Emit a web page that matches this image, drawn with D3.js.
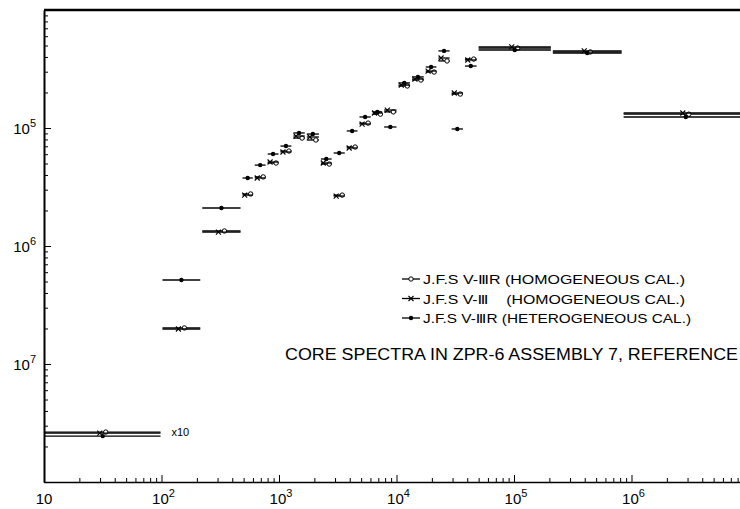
<!DOCTYPE html>
<meta charset="utf-8">
<style>
body { margin: 0; background: #fff; }
svg { display: block; font-family: "Liberation Sans", "DejaVu Sans", sans-serif; }
.bar { fill: none; stroke: #000; stroke-width: 1.3px; }
.axis path, .axis line { stroke: #000; }
</style>
<body>
<script src="https://cdn.jsdelivr.net/npm/d3@7"></script>
<script>

// energy group edges (eV)
var edges = [10, 100, 218, 480, 610, 785, 1010, 1300, 1690, 2230, 2860, 3700, 4750,
             6150, 7700, 10200, 13300, 17400, 22300, 28900, 37500, 49000, 210000, 840000, 1e7];

// flux per group (first group plotted x10)
var homogR = [2.65e-8, 2.02e-7, 1.34e-6, 2.76e-6, 3.85e-6, 5.05e-6, 6.38e-6, 8.22e-6, 7.91e-6,
              4.95e-6, 2.70e-6, 6.90e-6, 1.10e-5, 1.31e-5, 1.37e-5, 2.27e-5, 2.55e-5, 2.98e-5,
              3.70e-5, 1.94e-5, 3.84e-5, 4.76e-5, 4.41e-5, 1.31e-5];
var homog  = [2.60e-8, 1.98e-7, 1.31e-6, 2.70e-6, 3.77e-6, 5.15e-6, 6.26e-6, 8.55e-6, 8.39e-6,
              5.05e-6, 2.65e-6, 6.77e-6, 1.08e-5, 1.34e-5, 1.42e-5, 2.31e-5, 2.60e-5, 3.04e-5,
              3.92e-5, 1.98e-5, 3.77e-5, 4.86e-5, 4.50e-5, 1.34e-5];
var heteroR = [2.45e-8, 5.15e-7, 2.10e-6, 3.77e-6, 4.85e-6, 6.02e-6, 7.03e-6, 9.08e-6, 8.89e-6,
               5.46e-6, 6.14e-6, 9.44e-6, 1.24e-5, 1.37e-5, 1.02e-5, 2.41e-5, 2.71e-5, 3.29e-5,
               4.50e-5, 9.81e-6, 3.35e-5, 4.58e-5, 4.32e-5, 1.24e-5];

var xMajor = [10, 1e2, 1e3, 1e4, 1e5, 1e6];
var yMajor = [1e-7, 1e-6, 1e-5];
var legendLabels = ["J.F.S V-\u2162R (HOMOGENEOUS CAL.)",
                    "J.F.S V-\u2162    (HOMOGENEOUS CAL.)",
                    "J.F.S V-\u2162R (HETEROGENEOUS CAL.)"];
var title = "CORE SPECTRA IN ZPR-6 ASSEMBLY 7, REFERENCE";

var W = 740, H = 509;

var x = d3.scaleLog().domain([10, 1e7]).range([44, 749]);
var y = d3.scaleLog().domain([1e-8, 1e-4]).range([482, 10]);

var svg = d3.select("body").append("svg")
    .attr("width", W)
    .attr("height", H);

// axes with inward ticks
var minorX = x.ticks().filter(function(d) { return xMajor.indexOf(d) < 0 && x(d) < W; });
var minorY = y.ticks().filter(function(d) { return yMajor.indexOf(d) < 0; });

svg.append("g").attr("class", "axis")
    .attr("transform", "translate(0,482)")
    .call(d3.axisBottom(x).tickValues(minorX).tickSizeInner(-4).tickSizeOuter(0).tickFormat(""))
    .select(".domain").attr("stroke-width", 1.6);
svg.append("g").attr("class", "axis")
    .attr("transform", "translate(0,482)")
    .call(d3.axisBottom(x).tickValues(xMajor).tickSizeInner(-7).tickSizeOuter(0).tickFormat(""))
    .select(".domain").remove();

svg.append("g").attr("class", "axis")
    .attr("transform", "translate(44,0)")
    .call(d3.axisLeft(y).tickValues(minorY).tickSizeInner(-4).tickSizeOuter(0).tickFormat(""))
    .select(".domain").attr("stroke-width", 2);
svg.append("g").attr("class", "axis")
    .attr("transform", "translate(44,0)")
    .call(d3.axisLeft(y).tickValues(yMajor).tickSizeInner(-7).tickSizeOuter(0).tickFormat(""))
    .select(".domain").remove();

// top frame line
svg.append("line")
    .attr("x1", x(10)).attr("x2", W)
    .attr("y1", y(1e-4)).attr("y2", y(1e-4))
    .attr("stroke", "#000").attr("stroke-width", 2.4);

// tick labels with superscripts
function exp(v) { return Math.round(Math.log10(v)); }

var xl = svg.append("g").selectAll("text")
    .data(xMajor).enter().append("text")
    .attr("x", function(d) { return x(d) + (d === 10 ? 0 : 2); })
    .attr("y", 504)
    .attr("text-anchor", "middle")
    .style("font-size", "15px");
xl.append("tspan").text("10");
xl.filter(function(d) { return d > 10; }).append("tspan")
    .attr("dy", -7).style("font-size", "11px")
    .text(function(d) { return exp(d); });

var yl = svg.append("g").selectAll("text")
    .data(yMajor).enter().append("text")
    .attr("x", 36)
    .attr("y", function(d) { return y(d) + 6; })
    .attr("text-anchor", "end")
    .style("font-size", "15px");
yl.append("tspan").text("10");
yl.append("tspan")
    .attr("dy", -7).style("font-size", "11px")
    .text(function(d) { return Math.abs(exp(d)); });

// markers
function marker(g, kind, cx, cy) {
  if (kind === "circle") {
    g.append("circle").attr("cx", cx).attr("cy", cy).attr("r", 2.2)
      .attr("fill", "#fff").attr("stroke", "#000").attr("stroke-width", 1);
  } else if (kind === "cross") {
    g.append("path")
      .attr("d", "M" + (cx - 2.5) + "," + (cy - 2.5) + "L" + (cx + 2.5) + "," + (cy + 2.5) +
                 "M" + (cx - 2.5) + "," + (cy + 2.5) + "L" + (cx + 2.5) + "," + (cy - 2.5))
      .attr("stroke", "#000").attr("stroke-width", 1.1);
  } else {
    g.append("circle").attr("cx", cx).attr("cy", cy).attr("r", 2.2).attr("fill", "#000");
  }
}

var series = [
  {values: homogR, kind: "circle", shift: 3},
  {values: homog, kind: "cross", shift: -3},
  {values: heteroR, kind: "dot", shift: 0}
];

var plot = svg.append("g");
series.forEach(function(s) {
  var g = plot.append("g");
  s.values.forEach(function(v, i) {
    var lo = edges[i], hi = edges[i + 1];
    g.append("line").attr("class", "bar")
      .attr("x1", x(lo) + 1).attr("x2", x(hi) - 1)
      .attr("y1", y(v)).attr("y2", y(v))
      .attr("stroke", "#000").attr("stroke-width", 1.3);
    marker(g, s.kind, x(Math.sqrt(lo * hi)) + s.shift, y(v));
  });
});

svg.append("text")
    .attr("x", x(100) + 10).attr("y", y(homogR[0]) + 4)
    .style("font-size", "11px")
    .text("x10");

// legend
var leg = svg.append("g");
legendLabels.forEach(function(t, i) {
  var ly = 279 + i * 19.5;
  leg.append("line").attr("x1", 402).attr("x2", 420).attr("y1", ly).attr("y2", ly)
    .attr("stroke", "#000").attr("stroke-width", 1.3);
  marker(leg, series[i].kind, 411, ly);
  leg.append("text").attr("x", 423).attr("y", ly + 5)
    .attr("textLength", i === 2 ? 268 : 262).attr("lengthAdjust", "spacingAndGlyphs")
    .style("white-space", "pre")
    .style("font-size", "13px")
    .text(t);
});

svg.append("text")
    .attr("x", 285).attr("y", 360)
    .attr("textLength", 453).attr("lengthAdjust", "spacingAndGlyphs")
    .style("font-size", "16px")
    .text(title);

</script>
</body>
